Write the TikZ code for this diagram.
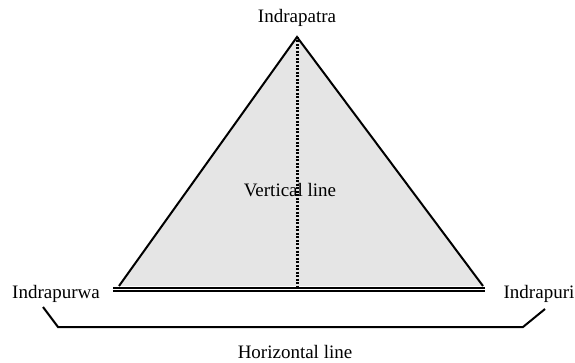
\documentclass[tikz,border=0pt]{standalone}
\usepackage{fontspec}
\setmainfont{Liberation Serif}
\begin{document}
\begin{tikzpicture}[x=1pt, y=-1pt, every node/.style={font=\fontsize{19}{23}\selectfont, inner sep=0pt, anchor=base}]
        \useasboundingbox (0,0) rectangle (575,363);
        \coordinate (top) at (297,37);
        \coordinate (left) at (119,286);
        \coordinate (right) at (483,286);
        \coordinate (foot) at (297,286);
        \coordinate (baseL) at (113,287.6);
        \coordinate (baseR) at (485,287.6);
        \coordinate (lowL) at (113,291);
        \coordinate (lowR) at (485,291);
        \coordinate (br1) at (43,307);
        \coordinate (br2) at (58,327);
        \coordinate (br3) at (523,327);
        \coordinate (br4) at (545,309);
        \fill[black!10] (top) -- (left) -- (right) -- cycle;
        \draw[line width=2pt, line join=miter] (left) -- (top) -- (right);
        \node[] (patra) at (297,23) {Indrapatra};
        \node[] (purwa) at (56,298) {Indrapurwa};
        \node[] (puri) at (539,298) {Indrapuri};
        \node[] (vert) at (290,197) {Vertical line};
        \node[] (horiz) at (295,358) {Horizontal line};
        \draw[line width=3pt, dash pattern=on 2pt off 1.5pt] (top) -- (foot);
        \draw[line width=1.8pt] (baseL) -- (baseR);
        \draw[line width=1.6pt] (lowL) -- (lowR);
        \draw[line width=2pt] (br1) -- (br2) -- (br3) -- (br4);
    \end{tikzpicture}
\end{document}
